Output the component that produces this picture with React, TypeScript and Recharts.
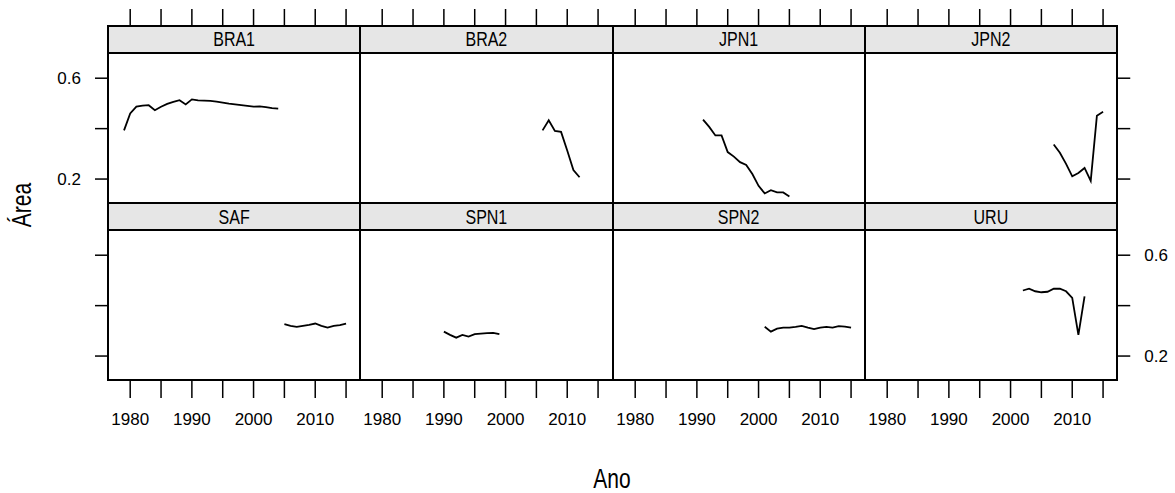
import React from 'react';
import { LineChart, Line, XAxis, YAxis } from 'recharts';

const panels = ['BRA1', 'BRA2', 'JPN1', 'JPN2', 'SAF', 'SPN1', 'SPN2', 'URU'];
const startYears = [1979, 2006, 1991, 2007, 2005, 1990, 2001, 2002];

const bra1 = [0.393, 0.46, 0.487, 0.491, 0.493, 0.473, 0.487, 0.498, 0.506, 0.513, 0.496, 0.516, 0.512, 0.511, 0.51, 0.507, 0.503, 0.499, 0.496, 0.493, 0.49, 0.487, 0.488, 0.485, 0.481, 0.479];
const bra2 = [0.393, 0.433, 0.391, 0.387, 0.313, 0.236, 0.207];
const jpn1 = [0.436, 0.407, 0.373, 0.373, 0.307, 0.289, 0.267, 0.256, 0.22, 0.173, 0.143, 0.156, 0.147, 0.147, 0.131];
const jpn2 = [0.337, 0.304, 0.26, 0.211, 0.224, 0.244, 0.193, 0.451, 0.467];
const saf = [0.327, 0.32, 0.316, 0.32, 0.324, 0.329, 0.32, 0.313, 0.32, 0.323, 0.329];
const spn1 = [0.297, 0.284, 0.273, 0.284, 0.277, 0.287, 0.289, 0.291, 0.292, 0.287];
const spn2 = [0.316, 0.297, 0.309, 0.313, 0.313, 0.316, 0.32, 0.313, 0.307, 0.313, 0.316, 0.313, 0.319, 0.317, 0.313];
const uru = [0.46, 0.467, 0.457, 0.453, 0.455, 0.467, 0.467, 0.457, 0.431, 0.284, 0.437];

const seriesValues = [bra1, bra2, jpn1, jpn2, saf, spn1, spn2, uru];

const yearTicks = [1980, 1985, 1990, 1995, 2000, 2005, 2010, 2015];
const yearLabels = [1980, 1990, 2000, 2010];
const areaTicks = [0.2, 0.4, 0.6];
const areaLabels = [0.2, 0.6];

const FONT = '"Liberation Sans", Arial, sans-serif';
const PANEL_W = 252.25;
const PANEL_H = 150;
const LEFT0 = 108;
const STRIP_H = 27;
const ROW_TOP = [53, 230];
const PAD = 60;

function Panel({ idx }: { idx: number }) {
  const row = Math.floor(idx / 4);
  const col = idx % 4;
  const data = seriesValues[idx].map((v, i) => ({ year: startYears[idx] + i, v }));
  const left = LEFT0 + col * PANEL_W;
  const top = ROW_TOP[row];
  const showY = col === 0 || col === 3;
  const margin = {
    top: row === 0 ? 0 : PAD,
    bottom: row === 1 ? 0 : PAD,
    left: col === 0 ? 0 : PAD,
    right: col === 3 ? 0 : PAD,
  };
  const tickStyle = { fontSize: 17, fill: '#000', fontFamily: FONT };
  return (
    <div style={{ position: 'absolute', left: left - PAD, top: top - PAD }}>
      <LineChart width={PANEL_W + 2 * PAD} height={PANEL_H + 2 * PAD} data={data} margin={margin}>
        <XAxis
          dataKey="year"
          type="number"
          domain={[1976.4, 2017.3]}
          ticks={yearTicks}
          orientation={row === 0 ? 'top' : 'bottom'}
          height={PAD}
          axisLine={false}
          tickSize={row === 0 ? 44 : 18}
          tickMargin={15}
          tickLine={{ stroke: '#000', strokeWidth: 1.5 }}
          tick={tickStyle}
          tickFormatter={(v: number) => (row === 1 && yearLabels.includes(v) ? String(v) : '')}
          interval={0}
        />
        <YAxis
          type="number"
          domain={[0.105, 0.7]}
          ticks={areaTicks}
          orientation={col === 3 ? 'right' : 'left'}
          width={PAD}
          hide={!showY}
          axisLine={false}
          tickSize={13}
          tickMargin={14}
          tickLine={{ stroke: '#000', strokeWidth: 1.5 }}
          tick={tickStyle}
          tickFormatter={(v: number) =>
            ((row === 0 && col === 0) || (row === 1 && col === 3)) && areaLabels.includes(v) ? v.toFixed(1) : ''
          }
          interval={0}
        />
        <Line type="linear" dataKey="v" stroke="#000" strokeWidth={1.8} dot={false} isAnimationActive={false} />
      </LineChart>
    </div>
  );
}

function Frame({ idx }: { idx: number }) {
  const row = Math.floor(idx / 4);
  const col = idx % 4;
  const left = LEFT0 + col * PANEL_W;
  const top = ROW_TOP[row] - STRIP_H;
  return (
    <div
      style={{
        position: 'absolute',
        left: left - 1,
        top: top - 1,
        width: PANEL_W + 2,
        height: STRIP_H + PANEL_H + 2,
        border: '2px solid #000',
        boxSizing: 'border-box',
      }}
    >
      <div
        style={{
          height: STRIP_H,
          background: '#e6e6e6',
          borderBottom: '2px solid #000',
          boxSizing: 'border-box',
          display: 'flex',
          alignItems: 'center',
          justifyContent: 'center',
          fontFamily: FONT,
          fontSize: 16,
          color: '#000',
        }}
      >
        <span style={{ display: 'inline-block', transform: 'scaleY(1.3)' }}>{panels[idx]}</span>
      </div>
    </div>
  );
}

export default function App() {
  return (
    <div style={{ position: 'absolute', left: 0, top: 0, width: 1175, height: 493, background: '#fff', overflow: 'hidden' }}>
      {panels.map((_, i) => (
        <Panel key={'p' + i} idx={i} />
      ))}
      {panels.map((_, i) => (
        <Frame key={'f' + i} idx={i} />
      ))}
      <div
        style={{
          position: 'absolute',
          left: 22,
          top: 205,
          transform: 'translate(-50%, -50%) rotate(-90deg) scaleY(1.3)',
          fontFamily: FONT,
          fontSize: 21,
          whiteSpace: 'nowrap',
        }}
      >
        Área
      </div>
      <div
        style={{
          position: 'absolute',
          left: 612,
          top: 479,
          transform: 'translate(-50%, -50%) scaleY(1.3)',
          fontFamily: FONT,
          fontSize: 21,
          whiteSpace: 'nowrap',
        }}
      >
        Ano
      </div>
    </div>
  );
}
